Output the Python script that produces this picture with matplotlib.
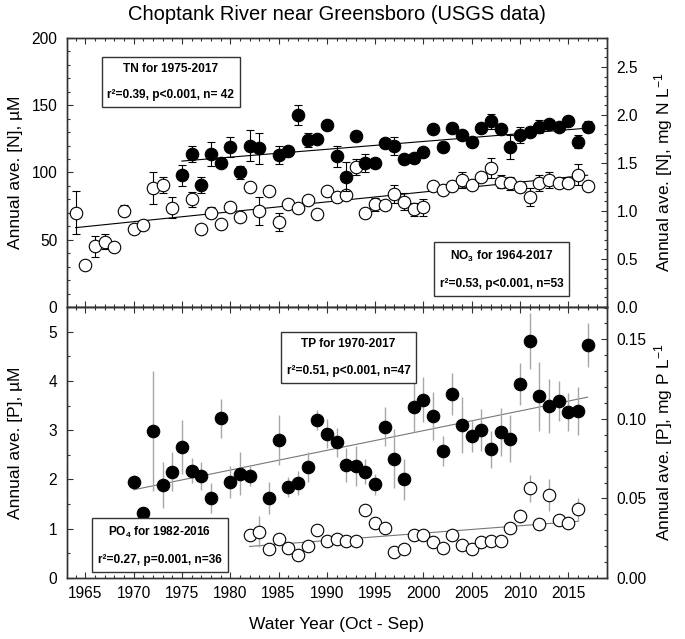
import numpy as np
import matplotlib
matplotlib.use('Agg')
import matplotlib.pyplot as plt
from matplotlib.ticker import MultipleLocator, FormatStrFormatter

plt.rcParams['font.family'] = ['Liberation Sans', 'DejaVu Sans']
plt.rcParams['mathtext.fontset'] = 'custom'
plt.rcParams['mathtext.rm'] = 'Liberation Sans'
plt.rcParams['mathtext.it'] = 'Liberation Sans:italic'
plt.rcParams['mathtext.bf'] = 'Liberation Sans:bold'

# ---------------- data ----------------
tn_years = [1975, 1976, 1977, 1978, 1979, 1980, 1981, 1982, 1983, 1985, 1986, 1987, 1988, 1989,
            1990, 1991, 1992, 1993, 1994, 1995, 1996, 1997, 1998, 1999, 2000, 2001, 2002, 2003,
            2004, 2005, 2006, 2007, 2008, 2009, 2010, 2011, 2012, 2013, 2014, 2015, 2016, 2017]
tn_vals = [98, 114, 91, 114, 107, 119, 100, 120, 118, 113, 116, 143, 124, 125,
           135, 112, 97, 127, 107, 107, 122, 120, 110, 111, 115, 132, 119, 133,
           128, 123, 133, 138, 132, 119, 128, 130, 134, 136, 134, 138, 123, 134]
tn_err = [7.7, 6, 6, 9, 3, 7.4, 4.5, 11.6, 11.4, 7, 3, 7.4, 5.4, 3,
          3, 8, 11, 3, 7, 2, 3, 6.7, 3, 3, 3, 3, 3, 3,
          3, 3, 3, 5.7, 3, 8.7, 6, 3, 5, 3, 3, 3, 5, 4]

no3_years = [1964, 1965, 1966, 1967, 1968, 1969, 1970, 1971, 1972, 1973, 1974, 1976, 1977, 1978,
             1979, 1980, 1981, 1982, 1983, 1984, 1985, 1986, 1987, 1988, 1989, 1990, 1991, 1992,
             1993, 1994, 1995, 1996, 1997, 1998, 1999, 2000, 2001, 2002, 2003, 2004, 2005, 2006,
             2007, 2008, 2009, 2010, 2011, 2012, 2013, 2014, 2015, 2016, 2017]
no3_vals = [70, 31, 45, 48.6, 44.4, 71.6, 57.8, 61, 88.2, 90.7, 73.8, 80.1, 58, 70.1,
            61.7, 74.6, 67.1, 89, 71.4, 86.2, 63, 76.6, 73.8, 79.6, 69.1, 86.5, 82, 83.3,
            104, 69.6, 76.3, 75.8, 84, 78.3, 72.6, 74.1, 90, 87, 90, 94.4, 90.7, 96.9,
            103.1, 93.2, 92, 89, 82, 92, 94.4, 92, 92, 98.5, 90]
no3_err = [16, 0, 8, 5.8, 0, 4, 0, 0, 11.8, 6, 8, 5.6, 2, 4,
           2, 2, 3, 2, 10.5, 2, 6.8, 2, 2, 2, 2, 2, 3, 3,
           6, 2, 5, 3, 6.7, 6.5, 5, 6.5, 3, 3, 3, 6, 3, 3,
           7.5, 5, 5, 3, 6.8, 6, 6, 3, 3, 7.5, 3]

tp_years = [1970, 1971, 1972, 1973, 1974, 1975, 1976, 1977, 1978, 1979, 1980, 1981, 1982, 1984,
            1985, 1986, 1987, 1988, 1989, 1990, 1991, 1992, 1993, 1994, 1995, 1996, 1997, 1998,
            1999, 2000, 2001, 2002, 2003, 2004, 2005, 2006, 2007, 2008, 2009, 2010, 2011, 2012,
            2013, 2014, 2015, 2016, 2017]
tp_vals = [1.95, 1.31, 2.98, 1.89, 2.16, 2.66, 2.18, 2.07, 1.62, 3.24, 1.95, 2.12, 2.07, 1.62,
           2.80, 1.84, 1.93, 2.25, 3.20, 2.93, 2.75, 2.29, 2.27, 2.16, 1.90, 3.07, 2.42, 2.00,
           3.46, 3.62, 3.29, 2.58, 3.73, 3.10, 2.88, 3.00, 2.61, 2.96, 2.83, 3.94, 4.81, 3.69,
           3.49, 3.59, 3.37, 3.39, 4.73]
tp_err = [0.15, 0.1, 1.22, 0.46, 0.4, 0.55, 0.25, 0.28, 0.3, 0.4, 0.32, 0.44, 0.2, 0.32,
          0.5, 0.2, 0.25, 0.3, 0.2, 0.3, 0.3, 0.34, 0.4, 0.25, 0.22, 0.39, 0.6, 0.42,
          0.5, 0.46, 0.49, 0.3, 0.43, 0.57, 0.32, 0.42, 0.38, 0.48, 0.48, 0.43, 0.57, 0.7,
          0.55, 0.41, 0.38, 0.48, 0.45]

po4_years = [1982, 1983, 1984, 1985, 1986, 1987, 1988, 1989, 1990, 1991, 1992, 1993, 1994, 1995,
             1996, 1997, 1998, 1999, 2000, 2001, 2002, 2003, 2004, 2005, 2006, 2007, 2008, 2009,
             2010, 2011, 2012, 2013, 2014, 2015, 2016]
po4_vals = [0.87, 0.94, 0.58, 0.80, 0.60, 0.47, 0.64, 0.97, 0.76, 0.80, 0.76, 0.76, 1.38, 1.12,
            1.02, 0.52, 0.59, 0.87, 0.87, 0.72, 0.60, 0.87, 0.67, 0.59, 0.74, 0.76, 0.76, 1.01,
            1.26, 1.82, 1.10, 1.68, 1.18, 1.11, 1.39]
po4_err = [0.1, 0.32, 0.1, 0.1, 0.1, 0.1, 0.1, 0.1, 0.1, 0.1, 0.1, 0.1, 0.12, 0.1,
           0.1, 0.1, 0.1, 0.12, 0.1, 0.1, 0.1, 0.1, 0.1, 0.1, 0.1, 0.1, 0.1, 0.12,
           0.15, 0.28, 0.1, 0.32, 0.1, 0.1, 0.23]

# regression lines (end points)
tn_fit_x, tn_fit_y = [1975, 2017], [108.5, 133]
no3_fit_x, no3_fit_y = [1964, 2017], [59, 98]
tp_fit_x, tp_fit_y = [1970, 2017], [1.79, 3.67]
po4_fit_x, po4_fit_y = [1982, 2016], [0.64, 1.15]

N_FACTOR = 0.014007   # uM N -> mg N/L
P_FACTOR = 0.030974   # uM P -> mg P/L

# ---------------- figure ----------------
fig = plt.figure(figsize=(6.85, 6.39), dpi=100)
L, W = 0.0978, 0.7883
ax1 = fig.add_axes([L, 0.5196, W, 0.4209])
ax2 = fig.add_axes([L, 0.0955, W, 0.4241])

XLIM = (1963.1, 2019.0)
spine_col = '#333333'
tick_fs = 11.2
lab_fs = 12.5
box_fs = 8.6
ms = 9.0

def style_axes(ax):
    ax.set_xlim(*XLIM)
    ax.xaxis.set_major_locator(MultipleLocator(5))
    ax.xaxis.set_minor_locator(MultipleLocator(1))
    ax.tick_params(axis='both', which='both', direction='in', top=True, right=False,
                   colors=spine_col, labelcolor='black', labelsize=tick_fs, width=0.8)
    ax.tick_params(axis='both', which='major', length=4.5)
    ax.tick_params(axis='both', which='minor', length=2.5)
    ax.tick_params(axis='y', pad=7)
    ax.tick_params(axis='x', pad=6)
    for s in ax.spines.values():
        s.set_color(spine_col)
        s.set_linewidth(1.0)

def style_right(axr):
    axr.tick_params(axis='y', which='both', direction='in', colors=spine_col,
                    labelcolor='black', labelsize=tick_fs, width=0.8, pad=7)
    axr.tick_params(axis='y', which='major', length=4.5)
    axr.tick_params(axis='y', which='minor', length=2.5)
    for s in axr.spines.values():
        s.set_color(spine_col)
        s.set_linewidth(1.0)

# ---- top panel (N) ----
style_axes(ax1)
ax1.set_ylim(0, 200)
ax1.yaxis.set_major_locator(MultipleLocator(50))
ax1.yaxis.set_minor_locator(MultipleLocator(10))
ax1.tick_params(axis='x', labelbottom=False)

ax1.plot(no3_fit_x, no3_fit_y, color='black', lw=0.8, zorder=1)
ax1.plot(tn_fit_x, tn_fit_y, color='black', lw=0.8, zorder=1)
ax1.errorbar(no3_years, no3_vals, yerr=no3_err, fmt='none', ecolor='black',
             elinewidth=0.8, capsize=3, capthick=0.8, zorder=2)
ax1.plot(no3_years, no3_vals, 'o', ms=ms, mfc='white', mec='black', mew=0.8, zorder=3)
ax1.errorbar(tn_years, tn_vals, yerr=tn_err, fmt='none', ecolor='black',
             elinewidth=0.8, capsize=3, capthick=0.8, zorder=4)
ax1.plot(tn_years, tn_vals, 'o', ms=ms, mfc='black', mec='black', mew=0.8, zorder=5)

ax1.set_ylabel('Annual ave. [N], µM', fontsize=lab_fs)
ax1.yaxis.set_label_coords(-0.082, 0.5)

ax1r = ax1.twinx()
ax1r.set_ylim(0, 200 * N_FACTOR)
ax1r.yaxis.set_major_locator(MultipleLocator(0.5))
ax1r.yaxis.set_minor_locator(MultipleLocator(0.1))
ax1r.yaxis.set_major_formatter(FormatStrFormatter('%.1f'))
style_right(ax1r)
ax1r.set_ylabel('Annual ave. [N], mg N L$^{-1}$', fontsize=lab_fs)
ax1r.yaxis.set_label_coords(1.083, 0.5)

box = dict(boxstyle='square,pad=0.5', fc='white', ec=spine_col, lw=1.0)
ax1.text(0.1926, 0.8364, 'TN for 1975-2017\nr²=0.39, p<0.001, n= 42',
         transform=ax1.transAxes, ha='center', va='center', fontsize=box_fs,
         fontweight='bold', linespacing=2.6, bbox=box, zorder=6)
ax1.text(0.8046, 0.1387, 'NO$_{\\mathbf{3}}$ for 1964-2017\nr²=0.53, p<0.001, n=53',
         transform=ax1.transAxes, ha='center', va='center', fontsize=box_fs,
         fontweight='bold', linespacing=2.6, bbox=box, zorder=6)

# ---- bottom panel (P) ----
style_axes(ax2)
ax2.set_ylim(0, 5.5)
ax2.yaxis.set_major_locator(MultipleLocator(1))
ax2.yaxis.set_minor_locator(MultipleLocator(0.5))

gray_bar = '#a8a8a8'
ax2.plot(po4_fit_x, po4_fit_y, color='#777777', lw=0.8, zorder=1)
ax2.plot(tp_fit_x, tp_fit_y, color='#777777', lw=0.8, zorder=1)
ax2.errorbar(po4_years, po4_vals, yerr=po4_err, fmt='none', ecolor=gray_bar,
             elinewidth=1.0, capsize=0, zorder=2)
ax2.plot(po4_years, po4_vals, 'o', ms=ms, mfc='white', mec='black', mew=0.8, zorder=3)
ax2.errorbar(tp_years, tp_vals, yerr=tp_err, fmt='none', ecolor=gray_bar,
             elinewidth=1.0, capsize=0, zorder=4)
ax2.plot(tp_years, tp_vals, 'o', ms=ms, mfc='black', mec='black', mew=0.8, zorder=5)

ax2.set_ylabel('Annual ave. [P], µM', fontsize=lab_fs)
ax2.yaxis.set_label_coords(-0.082, 0.5)
ax2.set_xlabel('Water Year (Oct - Sep)', fontsize=lab_fs)
ax2.xaxis.set_label_coords(0.5, -0.145)

ax2r = ax2.twinx()
ax2r.set_ylim(0, 5.5 * P_FACTOR)
ax2r.yaxis.set_major_locator(MultipleLocator(0.05))
ax2r.yaxis.set_minor_locator(MultipleLocator(0.01))
ax2r.yaxis.set_major_formatter(FormatStrFormatter('%.2f'))
style_right(ax2r)
ax2r.set_ylabel('Annual ave. [P], mg P L$^{-1}$', fontsize=lab_fs)
ax2r.yaxis.set_label_coords(1.083, 0.5)

ax2.text(0.5213, 0.813, 'TP for 1970-2017\nr²=0.51, p<0.001, n=47',
         transform=ax2.transAxes, ha='center', va='center', fontsize=box_fs,
         fontweight='bold', linespacing=2.6, bbox=box, zorder=6)
ax2.text(0.1716, 0.119, 'PO$_{\\mathbf{4}}$ for 1982-2016\nr²=0.27, p=0.001, n=36',
         transform=ax2.transAxes, ha='center', va='center', fontsize=box_fs,
         fontweight='bold', linespacing=2.6, bbox=box, zorder=6)

fig.text(337 / 685, 1 - 15 / 639, 'Choptank River near Greensboro (USGS data)',
         ha='center', va='center', fontsize=14.5)

fig.savefig('out.png', dpi=100)
